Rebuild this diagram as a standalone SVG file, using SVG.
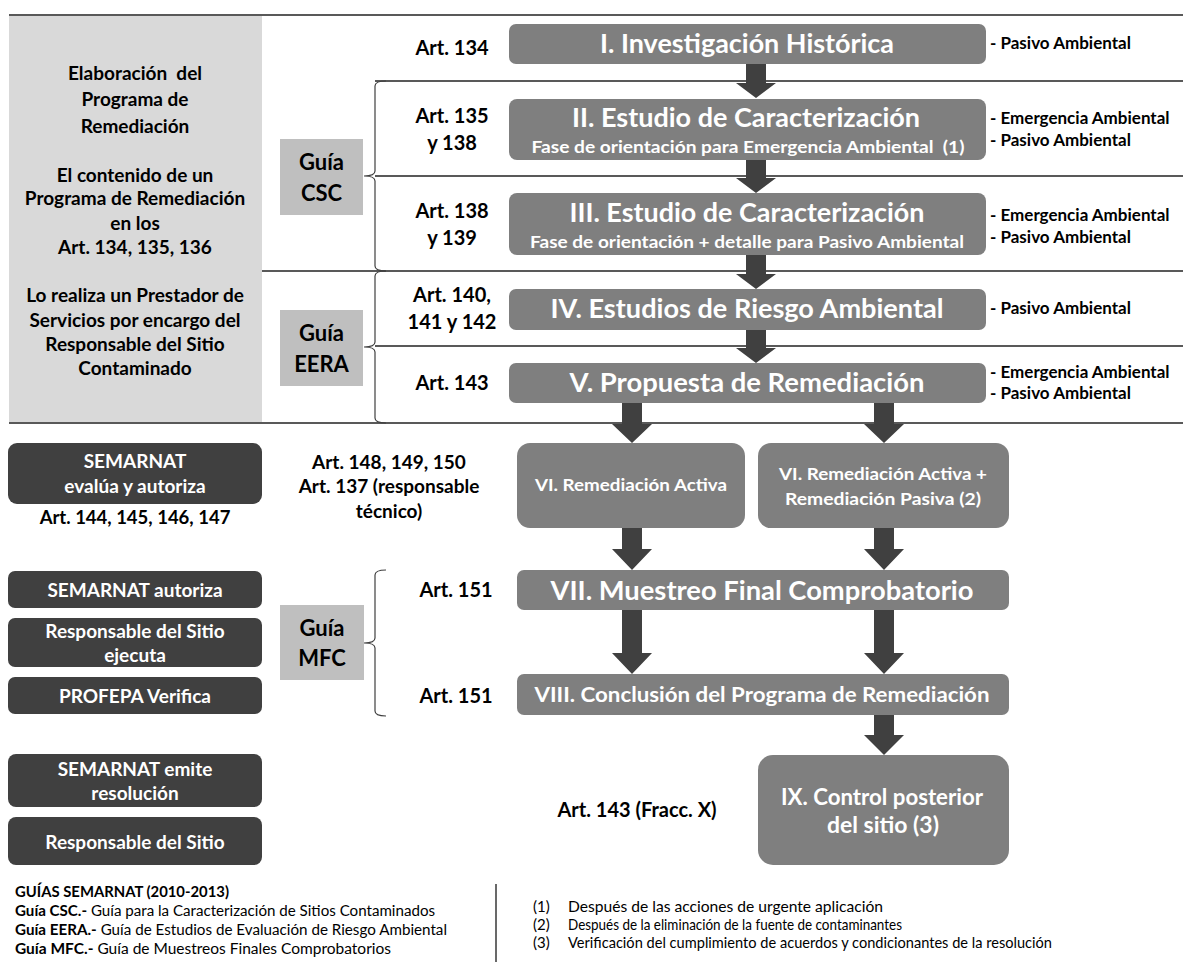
<svg xmlns="http://www.w3.org/2000/svg" width="1183" height="962" viewBox="0 0 1183 962">
<style>
text{font-family:"Lato","Liberation Sans",sans-serif;font-weight:bold;text-anchor:middle}
.blk{fill:#000}
.wh{fill:#fff}
.step{fill:#7f7f7f}
.dark{fill:#404040}
.guia{fill:#bfbfbf}
.ln{stroke:#595959;stroke-width:1.8;fill:none}
.br{stroke:#404040;stroke-width:1.2;fill:none}
.arr{fill:#404040}
.lbl{font-size:17px;text-anchor:start}
.art{font-size:20px}
.art2{font-size:19px}
.pan{font-size:19px}
.g{font-size:22px}
.t1{font-size:26px}
.sub{font-size:17.5px}
.vi{font-size:17px}
.dk{font-size:19px}
.leg{font-size:15.5px;font-weight:normal;text-anchor:start}
.note{font-size:15px;font-weight:normal;text-anchor:start}
.legb{font-weight:bold}
</style>
<rect x="0" y="0" width="1183" height="962" fill="#fff"/>

<g id="panel">
<rect x="9" y="16" width="253" height="406" fill="#d9d9d9"/>
<text class="pan blk" x="135" y="80" style="white-space:pre">Elaboración  del</text>
<text class="pan blk" x="135" y="106">Programa de</text>
<text class="pan blk" x="135" y="133">Remediación</text>
<text class="pan blk" x="135" y="182">El contenido de un</text>
<text class="pan blk" x="135" y="205">Programa de Remediación</text>
<text class="pan blk" x="135" y="230">en los</text>
<text class="pan blk" x="135" y="254">Art. 134, 135, 136</text>
<text class="pan blk" x="135" y="302">Lo realiza un Prestador de</text>
<text class="pan blk" x="135" y="327">Servicios por encargo del</text>
<text class="pan blk" x="135" y="351">Responsable del Sitio</text>
<text class="pan blk" x="135" y="375">Contaminado</text>
</g>

<g id="rules">
<line class="ln" x1="9" y1="15" x2="1183" y2="15"/>
<line class="ln" x1="375" y1="81" x2="1183" y2="81"/>
<line class="ln" x1="375" y1="176" x2="1183" y2="176"/>
<line class="ln" x1="262" y1="271" x2="1183" y2="271"/>
<line class="ln" x1="375" y1="346" x2="1183" y2="346"/>
<line class="ln" x1="9" y1="423" x2="1183" y2="423"/>
<line class="ln" x1="496" y1="884" x2="496" y2="962"/>
</g>

<g id="brackets">
<path class="br" d="M386,81 Q375,81 375,86 L375,171 Q375,176 364,176 Q375,176 375,181 L375,266 Q375,271 386,271"/>
<path class="br" d="M386,271 Q375,271 375,276 L375,342 Q375,347 364,347 Q375,347 375,352 L375,418 Q375,423 386,423"/>
<path class="br" d="M386,570 Q375,570 375,575 L375,638 Q375,643 364,643 Q375,643 375,648 L375,711 Q375,716 386,716"/>
</g>

<g id="guia-csc">
<rect class="guia" x="280" y="139" width="83" height="76"/>
<text class="g blk" x="321.5" y="170">Guía</text>
<text class="g blk" x="321.5" y="201">CSC</text>
</g>
<g id="guia-eera">
<rect class="guia" x="280" y="310" width="83" height="76"/>
<text class="g blk" x="321.5" y="341">Guía</text>
<text class="g blk" x="321.5" y="372">EERA</text>
</g>
<g id="guia-mfc">
<rect class="guia" x="280" y="605" width="84" height="75"/>
<text class="g blk" x="322" y="636">Guía</text>
<text class="g blk" x="322" y="666">MFC</text>
</g>

<g id="arts">
<text class="art blk" x="452" y="55">Art. 134</text>
<text class="art blk" x="452" y="123">Art. 135</text>
<text class="art blk" x="452" y="150">y 138</text>
<text class="art blk" x="452" y="218">Art. 138</text>
<text class="art blk" x="452" y="245">y 139</text>
<text class="art blk" x="452" y="302">Art. 140,</text>
<text class="art blk" x="452" y="329">141 y 142</text>
<text class="art blk" x="452" y="390">Art. 143</text>
<text class="art2 blk" x="389" y="469">Art. 148, 149, 150</text>
<text class="art2 blk" x="389" y="493">Art. 137 (responsable</text>
<text class="art2 blk" x="389" y="518">técnico)</text>
<text class="art blk" x="456" y="597">Art. 151</text>
<text class="art blk" x="456" y="703">Art. 151</text>
<text class="art blk" x="637" y="817">Art. 143 (Fracc. X)</text>
</g>

<g id="tags">
<text class="lbl blk" x="990" y="49">- Pasivo Ambiental</text>
<text class="lbl blk" x="990" y="124">- Emergencia Ambiental</text>
<text class="lbl blk" x="990" y="146">- Pasivo Ambiental</text>
<text class="lbl blk" x="990" y="221">- Emergencia Ambiental</text>
<text class="lbl blk" x="990" y="243">- Pasivo Ambiental</text>
<text class="lbl blk" x="990" y="314">- Pasivo Ambiental</text>
<text class="lbl blk" x="990" y="378">- Emergencia Ambiental</text>
<text class="lbl blk" x="990" y="399">- Pasivo Ambiental</text>
</g>

<g id="connectors">
<polygon class="arr" points="746,64 766,64 766,83 776,83 756,98 736,83 746,83"/>
<polygon class="arr" points="746,160 766,160 766,178 776,178 756,193 736,178 746,178"/>
<polygon class="arr" points="746,255 766,255 766,274 776,274 756,289 736,274 746,274"/>
<polygon class="arr" points="746,330 766,330 766,348 776,348 756,363 736,348 746,348"/>
<polygon class="arr" points="622,403 642,403 642,424 652,424 632,443 612,424 622,424"/>
<polygon class="arr" points="874,403 894,403 894,424 904,424 884,443 864,424 874,424"/>
<polygon class="arr" points="622,528 642,528 642,549 652,549 632,570 612,549 622,549"/>
<polygon class="arr" points="874,528 894,528 894,549 904,549 884,570 864,549 874,549"/>
<polygon class="arr" points="622,610 642,610 642,653 652,653 632,674 612,653 622,653"/>
<polygon class="arr" points="874,610 894,610 894,653 904,653 884,674 864,653 874,653"/>
<polygon class="arr" points="874,715 894,715 894,735 904,735 884,755 864,735 874,735"/>
</g>

<g id="n1">
<rect class="step" x="509" y="24" width="477" height="40" rx="7"/>
<text class="t1 wh" x="747" y="53" textLength="294" lengthAdjust="spacingAndGlyphs">I. Investigación Histórica</text>
</g>
<g id="n2">
<rect class="step" x="509" y="99" width="477" height="61" rx="8"/>
<text class="t1 wh" x="746" y="127" textLength="348" lengthAdjust="spacingAndGlyphs">II. Estudio de Caracterización</text>
<text class="sub wh" x="748" y="153" textLength="433" lengthAdjust="spacingAndGlyphs" style="white-space:pre">Fase de orientación para Emergencia Ambiental  (1)</text>
</g>
<g id="n3">
<rect class="step" x="509" y="193" width="477" height="62" rx="8"/>
<text class="t1 wh" x="747" y="222" textLength="355" lengthAdjust="spacingAndGlyphs">III. Estudio de Caracterización</text>
<text class="sub wh" x="747" y="248" textLength="434" lengthAdjust="spacingAndGlyphs">Fase de orientación + detalle para Pasivo Ambiental</text>
</g>
<g id="n4">
<rect class="step" x="509" y="289" width="477" height="41" rx="7"/>
<text class="t1 wh" x="747" y="318" textLength="393" lengthAdjust="spacingAndGlyphs">IV. Estudios de Riesgo Ambiental</text>
</g>
<g id="n5">
<rect class="step" x="509" y="363" width="477" height="40" rx="7"/>
<text class="t1 wh" x="747" y="392" textLength="355" lengthAdjust="spacingAndGlyphs">V. Propuesta de Remediación</text>
</g>
<g id="n6a">
<rect class="step" x="517" y="443" width="228" height="85" rx="13"/>
<text class="vi wh" x="631" y="491" textLength="192" lengthAdjust="spacingAndGlyphs">VI. Remediación Activa</text>
</g>
<g id="n6b">
<rect class="step" x="758" y="443" width="251" height="85" rx="13"/>
<text class="vi wh" x="883" y="480" textLength="208" lengthAdjust="spacingAndGlyphs">VI. Remediación Activa +</text>
<text class="vi wh" x="883" y="505" textLength="196" lengthAdjust="spacingAndGlyphs">Remediación Pasiva (2)</text>
</g>
<g id="n7">
<rect class="step" x="517" y="570" width="492" height="40" rx="7"/>
<text class="t1 wh" x="762" y="600" textLength="423" lengthAdjust="spacingAndGlyphs">VII. Muestreo Final Comprobatorio</text>
</g>
<g id="n8">
<rect class="step" x="517" y="674" width="492" height="41" rx="7"/>
<text class="wh" style="font-size:21px" x="762" y="702" textLength="455" lengthAdjust="spacingAndGlyphs">VIII. Conclusión del Programa de Remediación</text>
</g>
<g id="n9">
<rect class="step" x="758" y="755" width="251" height="110" rx="15"/>
<text class="g wh" x="882" y="805" textLength="202" lengthAdjust="spacingAndGlyphs">IX. Control posterior</text>
<text class="g wh" x="883" y="833" textLength="112" lengthAdjust="spacingAndGlyphs">del sitio (3)</text>
</g>

<g id="a1">
<rect class="dark" x="8" y="443" width="254" height="61" rx="9"/>
<text class="dk wh" x="135" y="468">SEMARNAT</text>
<text class="dk wh" x="135" y="493">evalúa y autoriza</text>
<text class="dk blk" x="135" y="524" style="font-size:18.5px">Art. 144, 145, 146, 147</text>
</g>
<g id="a2">
<rect class="dark" x="8" y="571" width="254" height="37" rx="7"/>
<text class="dk wh" x="135" y="597">SEMARNAT autoriza</text>
</g>
<g id="a3">
<rect class="dark" x="8" y="618" width="254" height="49" rx="7"/>
<text class="dk wh" x="135" y="638">Responsable del Sitio</text>
<text class="dk wh" x="135" y="662">ejecuta</text>
</g>
<g id="a4">
<rect class="dark" x="8" y="677" width="254" height="37" rx="7"/>
<text class="dk wh" x="135" y="703">PROFEPA Verifica</text>
</g>
<g id="a5">
<rect class="dark" x="8" y="754" width="254" height="53" rx="8"/>
<text class="dk wh" x="135" y="776">SEMARNAT emite</text>
<text class="dk wh" x="135" y="800">resolución</text>
</g>
<g id="a6">
<rect class="dark" x="8" y="817" width="254" height="48" rx="8"/>
<text class="dk wh" x="135" y="849">Responsable del Sitio</text>
</g>

<g id="legend">
<text class="leg blk legb" x="15" y="897" textLength="214" lengthAdjust="spacingAndGlyphs">GUÍAS SEMARNAT (2010-2013)</text>
<text class="leg blk" x="15" y="916" textLength="420" lengthAdjust="spacingAndGlyphs"><tspan class="legb">Guía CSC.-</tspan> Guía para la Caracterización de Sitios Contaminados</text>
<text class="leg blk" x="15" y="935" textLength="432" lengthAdjust="spacingAndGlyphs"><tspan class="legb">Guía EERA.-</tspan> Guía de Estudios de Evaluación de Riesgo Ambiental</text>
<text class="leg blk" x="15" y="954" textLength="376" lengthAdjust="spacingAndGlyphs"><tspan class="legb">Guía MFC.-</tspan> Guía de Muestreos Finales Comprobatorios</text>
</g>
<g id="notes">
<text class="note blk" x="533" y="912">(1)</text>
<text class="note blk" x="568" y="912" textLength="315" lengthAdjust="spacingAndGlyphs">Después de las acciones de urgente aplicación</text>
<text class="note blk" x="533" y="930">(2)</text>
<text class="note blk" x="568" y="930" textLength="334" lengthAdjust="spacingAndGlyphs">Después de la eliminación de la fuente de contaminantes</text>
<text class="note blk" x="533" y="948">(3)</text>
<text class="note blk" x="568" y="948" textLength="484" lengthAdjust="spacingAndGlyphs">Verificación del cumplimiento de acuerdos y condicionantes de la resolución</text>
</g>
</svg>
